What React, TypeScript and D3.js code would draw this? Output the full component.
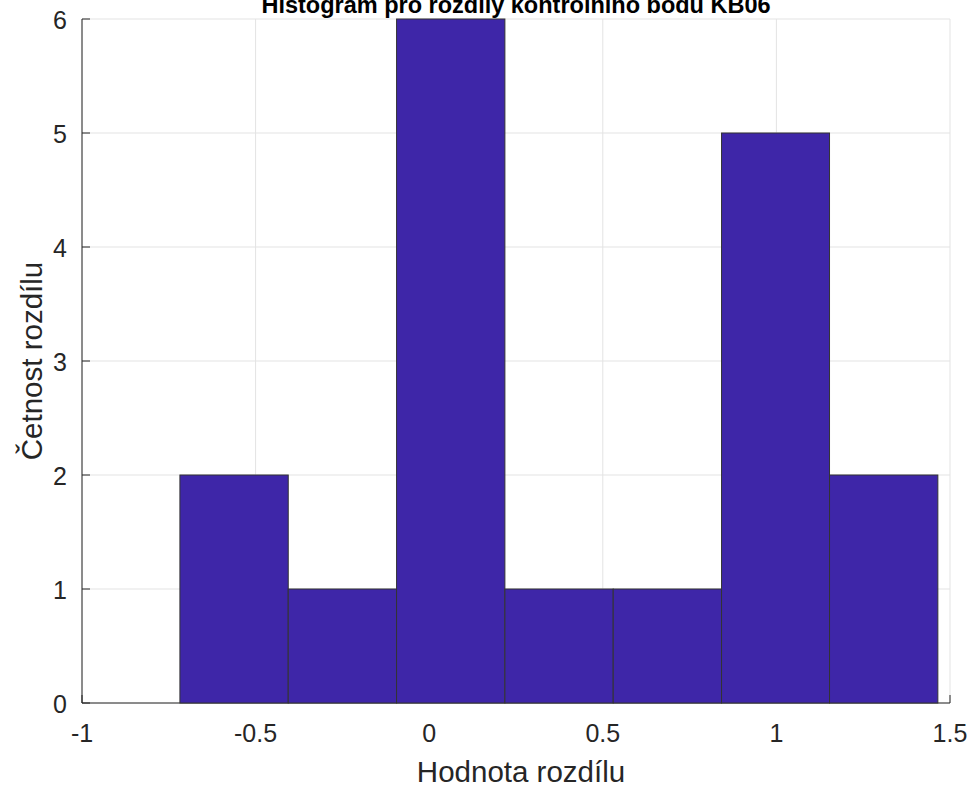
import React from "react";
import * as d3 from "d3";

const binEdges = [-0.718, -0.406, -0.094, 0.218, 0.53, 0.842, 1.153, 1.465];
const counts = [2, 1, 6, 1, 1, 5, 2];
const xTicks = [-1, -0.5, 0, 0.5, 1, 1.5];
const yTicks = [0, 1, 2, 3, 4, 5, 6];
const title = "Histogram pro rozdíly kontrolního bodu KB06";
const xLabel = "Hodnota rozdílu";
const yLabel = "Četnost rozdílu";

const W = 974;
const H = 787;
const M = { left: 82, right: 950, top: 19, bottom: 703 };

export default function App() {
  const x = d3.scaleLinear().domain([-1, 1.5]).range([M.left, M.right]);
  const y = d3.scaleLinear().domain([0, 6]).range([M.bottom, M.top]);
  const bins = counts.map((c, i) => ({ x0: binEdges[i], x1: binEdges[i + 1], c }));
  const font = "Liberation Sans, Arial, Helvetica, sans-serif";
  const txt = "#262626";
  const tickLen = 8;
  return (
    <svg width={W} height={H} style={{ position: "absolute", left: 0, top: 0, background: "#fff" }} fontFamily={font}>
      <rect x={0} y={0} width={W} height={H} fill="#fff" />
      {/* grid */}
      {xTicks.map((t) => (
        <line key={"gx" + t} x1={x(t)} x2={x(t)} y1={M.top} y2={M.bottom} stroke="#e3e3e3" strokeWidth={1} />
      ))}
      {yTicks.map((t) => (
        <line key={"gy" + t} x1={M.left} x2={M.right} y1={y(t)} y2={y(t)} stroke="#e3e3e3" strokeWidth={1} />
      ))}
      {/* axes */}
      <line x1={M.left} x2={M.left} y1={M.top} y2={M.bottom} stroke={txt} strokeWidth={1} />
      <line x1={M.left} x2={M.right} y1={M.bottom} y2={M.bottom} stroke={txt} strokeWidth={1} />
      {yTicks.map((t) => (
        <line key={"ty" + t} x1={M.left} x2={M.left + tickLen} y1={y(t)} y2={y(t)} stroke={txt} strokeWidth={1} />
      ))}
      {xTicks.map((t) => (
        <line key={"tx" + t} x1={x(t)} x2={x(t)} y1={M.bottom} y2={M.bottom - tickLen} stroke={txt} strokeWidth={1} />
      ))}
      {/* bars */}
      {bins.map((b, i) => (
        <rect
          key={"b" + i}
          x={x(b.x0)}
          y={y(b.c)}
          width={x(b.x1) - x(b.x0)}
          height={y(0) - y(b.c)}
          fill="#3E26A8"
          stroke="#333333"
          strokeWidth={1}
        />
      ))}
      {/* tick labels */}
      {xTicks.map((t) => (
        <text key={"lx" + t} x={x(t)} y={742} textAnchor="middle" fontSize={25} fill={txt}>
          {String(t)}
        </text>
      ))}
      {yTicks.map((t) => (
        <text key={"ly" + t} x={67} y={y(t) + 10} textAnchor="end" fontSize={25} fill={txt}>
          {t}
        </text>
      ))}
      {/* labels */}
      <text x={521} y={782} textAnchor="middle" fontSize={29.5} fill={txt}>
        {xLabel}
      </text>
      <text transform={`translate(42,361) rotate(-90)`} textAnchor="middle" fontSize={29.5} fill={txt}>
        {yLabel}
      </text>
      <text x={516} y={13} textAnchor="middle" fontSize={23.5} fontWeight="bold" fill="#000">
        {title}
      </text>
    </svg>
  );
}
